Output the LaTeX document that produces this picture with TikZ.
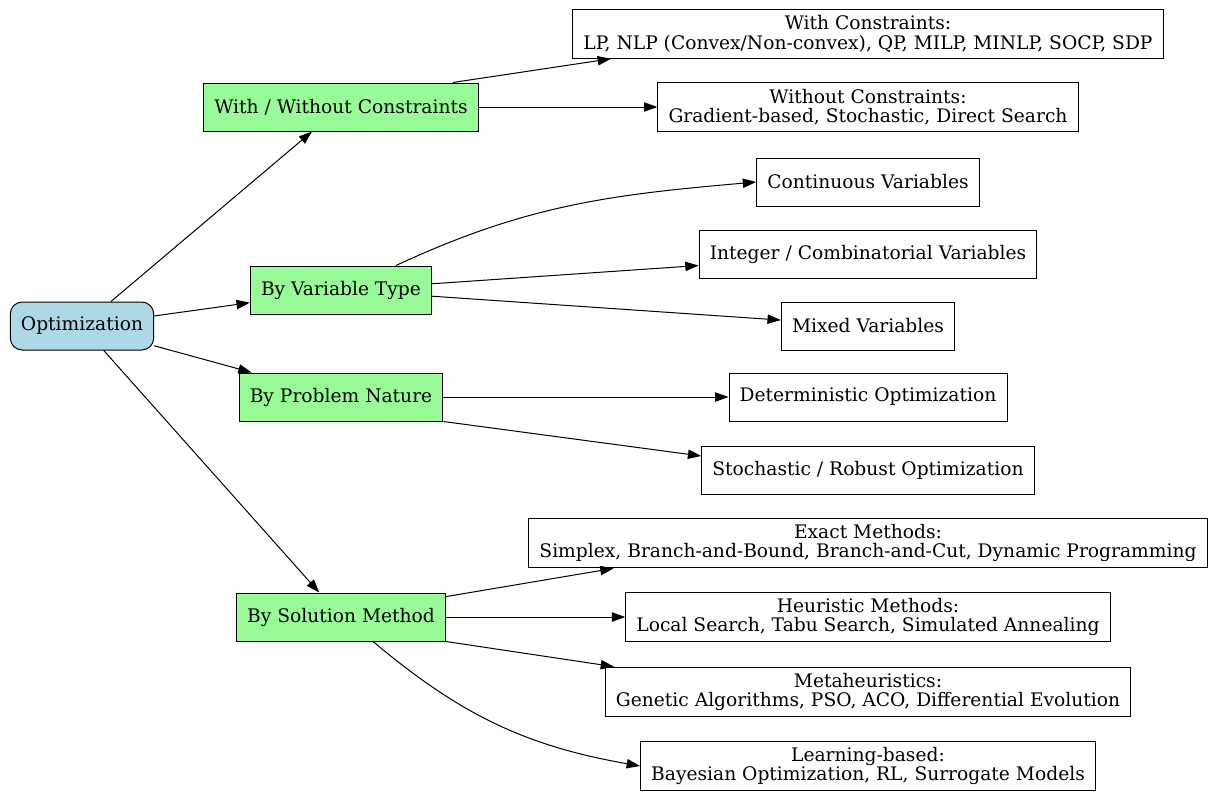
\documentclass[tikz,border=0pt]{standalone}
\usepackage{fontspec}
\setmainfont{DejaVu Serif}
\usetikzlibrary{arrows.meta}

\definecolor{rootblue}{HTML}{ADD8E6}
\definecolor{catgreen}{HTML}{98FB98}

\tikzset{
  root/.style={draw, fill=rootblue, rounded corners=9pt, minimum height=36pt, inner xsep=8pt},
  category/.style={draw, fill=catgreen, minimum height=36pt, inner xsep=8pt},
  leaf/.style={draw, fill=white, minimum height=36pt, inner xsep=8pt, inner ysep=4.5pt, align=center},
  arr/.style={-{Triangle[length=10pt,width=7pt]}}
}

\begin{document}
\begin{tikzpicture}[x=0.75pt, y=0.75pt, line width=0.75pt, font=\fontsize{14pt}{14.5pt}\selectfont]
\useasboundingbox (0,0) rectangle (1210,-794);

% Root and categories
\node[root] (opt) at (82,-326) {Optimization};
\node[category] (wwc) at (341,-107) {With / Without Constraints};
\node[category] (bvt) at (341,-290) {By Variable Type};
\node[category] (bpn) at (341,-397) {By Problem Nature};
\node[category] (bsm) at (341,-617) {By Solution Method};

% Leaves
\node[leaf] (wc) at (868,-34) {With Constraints:\\LP, NLP (Convex/Non-convex), QP, MILP, MINLP, SOCP, SDP};
\node[leaf] (woc) at (868,-107) {Without Constraints:\\Gradient-based, Stochastic, Direct Search};
\node[leaf] (cv) at (868,-182) {Continuous Variables};
\node[leaf] (icv) at (868,-254) {Integer / Combinatorial Variables};
\node[leaf] (mv) at (868,-326) {Mixed Variables};
\node[leaf] (dop) at (868,-397) {Deterministic Optimization};
\node[leaf] (sro) at (868,-470) {Stochastic / Robust Optimization};
\node[leaf] (em) at (868,-543) {Exact Methods:\\Simplex, Branch-and-Bound, Branch-and-Cut, Dynamic Programming};
\node[leaf] (hm) at (868,-617) {Heuristic Methods:\\Local Search, Tabu Search, Simulated Annealing};
\node[leaf] (meta) at (868,-692) {Metaheuristics:\\Genetic Algorithms, PSO, ACO, Differential Evolution};
\node[leaf] (lb) at (868,-766) {Learning-based:\\Bayesian Optimization, RL, Surrogate Models};

% Root edges
\draw[arr] (opt) -- (wwc);
\draw[arr] (opt) -- (bvt);
\draw[arr] (opt) -- (bpn);
\draw[arr] (opt) -- (bsm);

% Category edges
\draw[arr] ([xshift=-19.5pt]wwc.north east) -- ([xshift=29pt]wc.south west);
\draw[arr] (wwc) -- (woc);
\draw[arr] (bvt.24) to[out=25, in=185] (cv.west);
\draw[arr] (bvt) -- (icv);
\draw[arr] (bvt) -- (mv);
\draw[arr] (bpn) -- (dop);
\draw[arr] (bpn.south east) -- ([yshift=10.5pt]sro.west);
\draw[arr] (bsm.11) -- ([xshift=64pt]em.south west);
\draw[arr] (bsm) -- (hm);
\draw[arr] (bsm.south east) -- ([xshift=7pt]meta.north west);
\draw[arr] ([xshift=24pt]bsm.south) to[out=-40, in=170] (lb.west);
\end{tikzpicture}
\end{document}
